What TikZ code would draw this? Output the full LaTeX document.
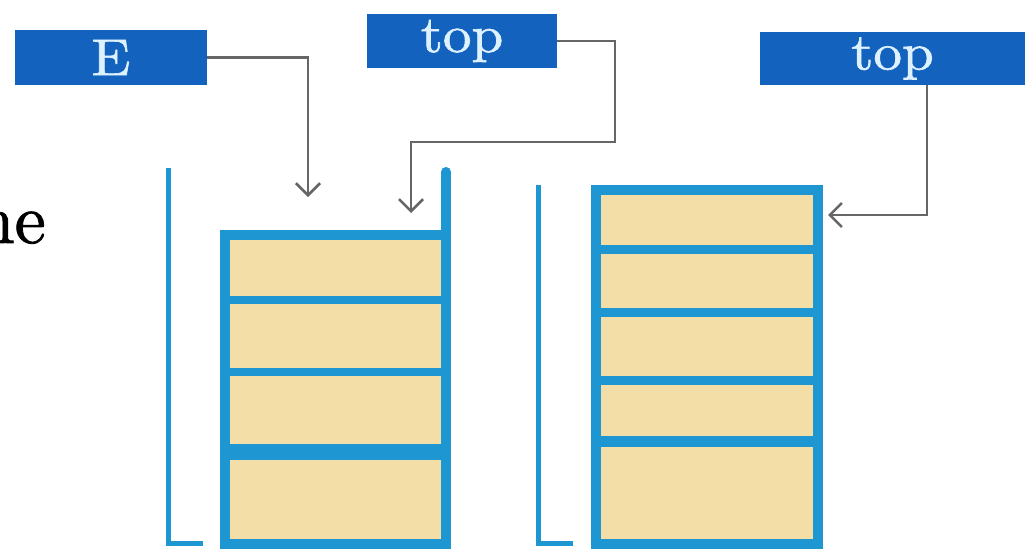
\documentclass[tikz,border=0pt]{standalone}
\usepackage{fontspec}
\usetikzlibrary{arrows.meta}
\newfontfamily\labelfont{lmroman10-regular.otf}[FakeBold=1.2]
\definecolor{labelblue}{HTML}{1262BE}
\definecolor{labeltext}{HTML}{DDF1FF}
\definecolor{wallblue}{HTML}{1E96D2}
\definecolor{cellfill}{HTML}{F2DEA6}
\definecolor{wire}{HTML}{666666}
\tikzset{
  label box/.style={fill=labelblue, text=labeltext, inner sep=0pt,
    font=\labelfont\fontsize{52}{52}\selectfont},
  wall/.style={draw=wallblue, line width=10pt},
  divider/.style={draw=wallblue, line width=#1},
  bracket/.style={draw=wallblue, line width=5pt},
  pointer/.style={draw=wire, line width=2.8pt,
    -{Straight Barb[length=12pt,width=24pt,line width=2.6pt]}},
}
\begin{document}
\begin{tikzpicture}[x=1pt,y=-1pt]
\useasboundingbox (0,0) rectangle (1033,552);
\fill[white] (0,0) rectangle (1033,552);

% labels
\node[label box, minimum width=192pt, minimum height=55pt] (E) at (111,57.5) {\scalebox{1.1}[1]{E}};
\node[label box, minimum width=190pt, minimum height=54pt] (T1) at (462,41) {\scalebox{1.1}[1]{top}};
\node[label box, minimum width=265pt, minimum height=53pt] (T2) at (892.5,58.5) {\scalebox{1.1}[1]{top}};

% text fragment at the left edge
\node[anchor=base east, inner sep=0pt, font=\labelfont\fontsize{70}{70}\selectfont] (frag) at (46,243) {ne};

% left stack
\fill[cellfill] (225,235) rectangle (446,544);
\draw[wall, line cap=round] (446,172) -- (446,300);
\draw[wall, line join=miter] (446,240) -- (446,544) -- (225,544) -- (225,235) -- (446,235);
\draw[divider=8pt] (225,300) -- (446,300);
\draw[divider=8pt] (225,372) -- (446,372);
\draw[divider=16pt] (225,452) -- (446,452);
\draw[bracket] (168,168) -- (168,543) -- (203,543);

% right stack
\fill[cellfill] (596,190) rectangle (818,544);
\draw[wall, line join=miter] (596,190) rectangle (818,544);
\draw[divider=9pt] (596,249) -- (818,249);
\draw[divider=9pt] (596,312) -- (818,312);
\draw[divider=9pt] (596,380) -- (818,380);
\draw[divider=11pt] (596,441) -- (818,441);
\draw[bracket] (538,185) -- (538,543) -- (573,543);

% pointers
\coordinate (Ein) at (308,197);
\coordinate (T1in) at (411,213);
\coordinate (T2in) at (828,215);
\draw[pointer] (E.east) -| (Ein);
\draw[pointer] (T1.east) -| (615,142) -| (T1in);
\draw[pointer] ([xshift=34.5pt]T2.south) |- (T2in);
\end{tikzpicture}
\end{document}
